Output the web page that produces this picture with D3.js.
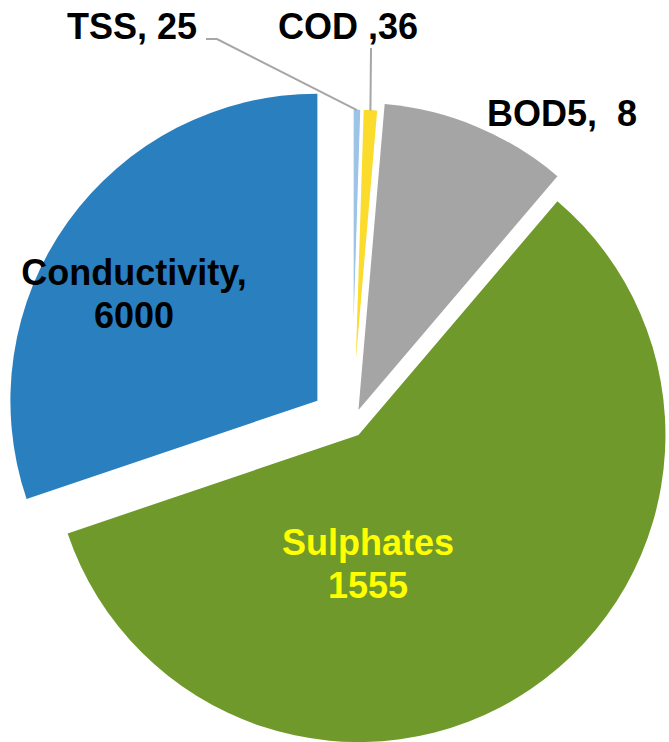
<!DOCTYPE html>
<html>
<head>
<meta charset="utf-8">
<script src="https://cdn.jsdelivr.net/npm/d3@7"></script>
<style>
  html, body { margin: 0; padding: 0; background: #ffffff; }
  svg { display: block; }
  text { font-family: "Liberation Sans", Arial, sans-serif; font-weight: bold; font-size: 36px; white-space: pre; }
</style>
</head>
<body>
<svg id="chart" width="669" height="742"></svg>
<script>
// ---- data ----
const categories = ["TSS", "COD", "BOD5", "Sulphates", "Conductivity"];
const labelValues = [25, 36, 8, 1555, 6000];
// share of the circle each slice occupies in the picture (percent)
const shares = [0.5, 0.86, 9.86, 58.58, 30.19];
// how each label joins name and value
const separators = [", ", " ,", ",  ", "\n", ",\n"];

// ---- styles / layout ----
const colors = ["#9dc3e6", "#fbdb2c", "#a5a5a5", "#6f992a", "#2a80bf"];
const labelColors = ["#000000", "#000000", "#000000", "#ffff00", "#000000"];
const borderWidth = [3, 3, 0, 0, 0];
const explode = [10.5, 10.5, 16.8, 11.5, 42.6];
const labelPos = [[132, 39], [348, 39], [562, 126], [368, 555], [134, 285]];
const leaderStart = [[[206, 39], [217, 39]], [[371, 48]], null, null, null];

const W = 669, H = 742;
const cx = 352, cy = 425.5, R = 307;

const svg = d3.select("#chart");
const data = categories.map((c, i) => ({ name: c, value: labelValues[i], share: shares[i], i }));

const pie = d3.pie().sort(null).value(d => d.share).startAngle(0).endAngle(2 * Math.PI);
const arcs = pie(data);
const arc = d3.arc().innerRadius(0).outerRadius(R);

const dir = a => [Math.sin(a), -Math.cos(a)];

const g = svg.append("g").attr("transform", `translate(${cx},${cy})`);

g.selectAll("path.slice")
  .data(arcs)
  .join("path")
  .attr("class", "slice")
  .attr("d", arc)
  .attr("fill", d => colors[d.data.i])
  .attr("stroke", "#ffffff")
  .attr("stroke-width", d => borderWidth[d.data.i])
  .attr("transform", d => {
    const m = (d.startAngle + d.endAngle) / 2;
    const [dx, dy] = dir(m);
    const e = explode[d.data.i];
    return `translate(${dx * e},${dy * e})`;
  });

// leader lines for the thin slices
arcs.forEach(d => {
  const ls = leaderStart[d.data.i];
  if (!ls) return;
  const m = (d.startAngle + d.endAngle) / 2;
  const [dx, dy] = dir(m);
  const rr = R + explode[d.data.i] - 2;
  const end = [cx + dx * rr, cy + dy * rr];
  const pts = ls.concat([end]);
  svg.append("path")
    .attr("d", d3.line()(pts))
    .attr("fill", "none")
    .attr("stroke", "#a6a6a6")
    .attr("stroke-width", 2);
});

// labels
data.forEach((d, i) => {
  const lines = (d.name + separators[i] + d.value).split("\n");
  const t = svg.append("text")
    .attr("x", labelPos[i][0])
    .attr("y", labelPos[i][1])
    .attr("text-anchor", "middle")
    .attr("fill", labelColors[i]);
  lines.forEach((ln, k) => {
    t.append("tspan")
      .attr("x", labelPos[i][0])
      .attr("dy", k === 0 ? 0 : 43)
      .text(ln);
  });
});
</script>
</body>
</html>
